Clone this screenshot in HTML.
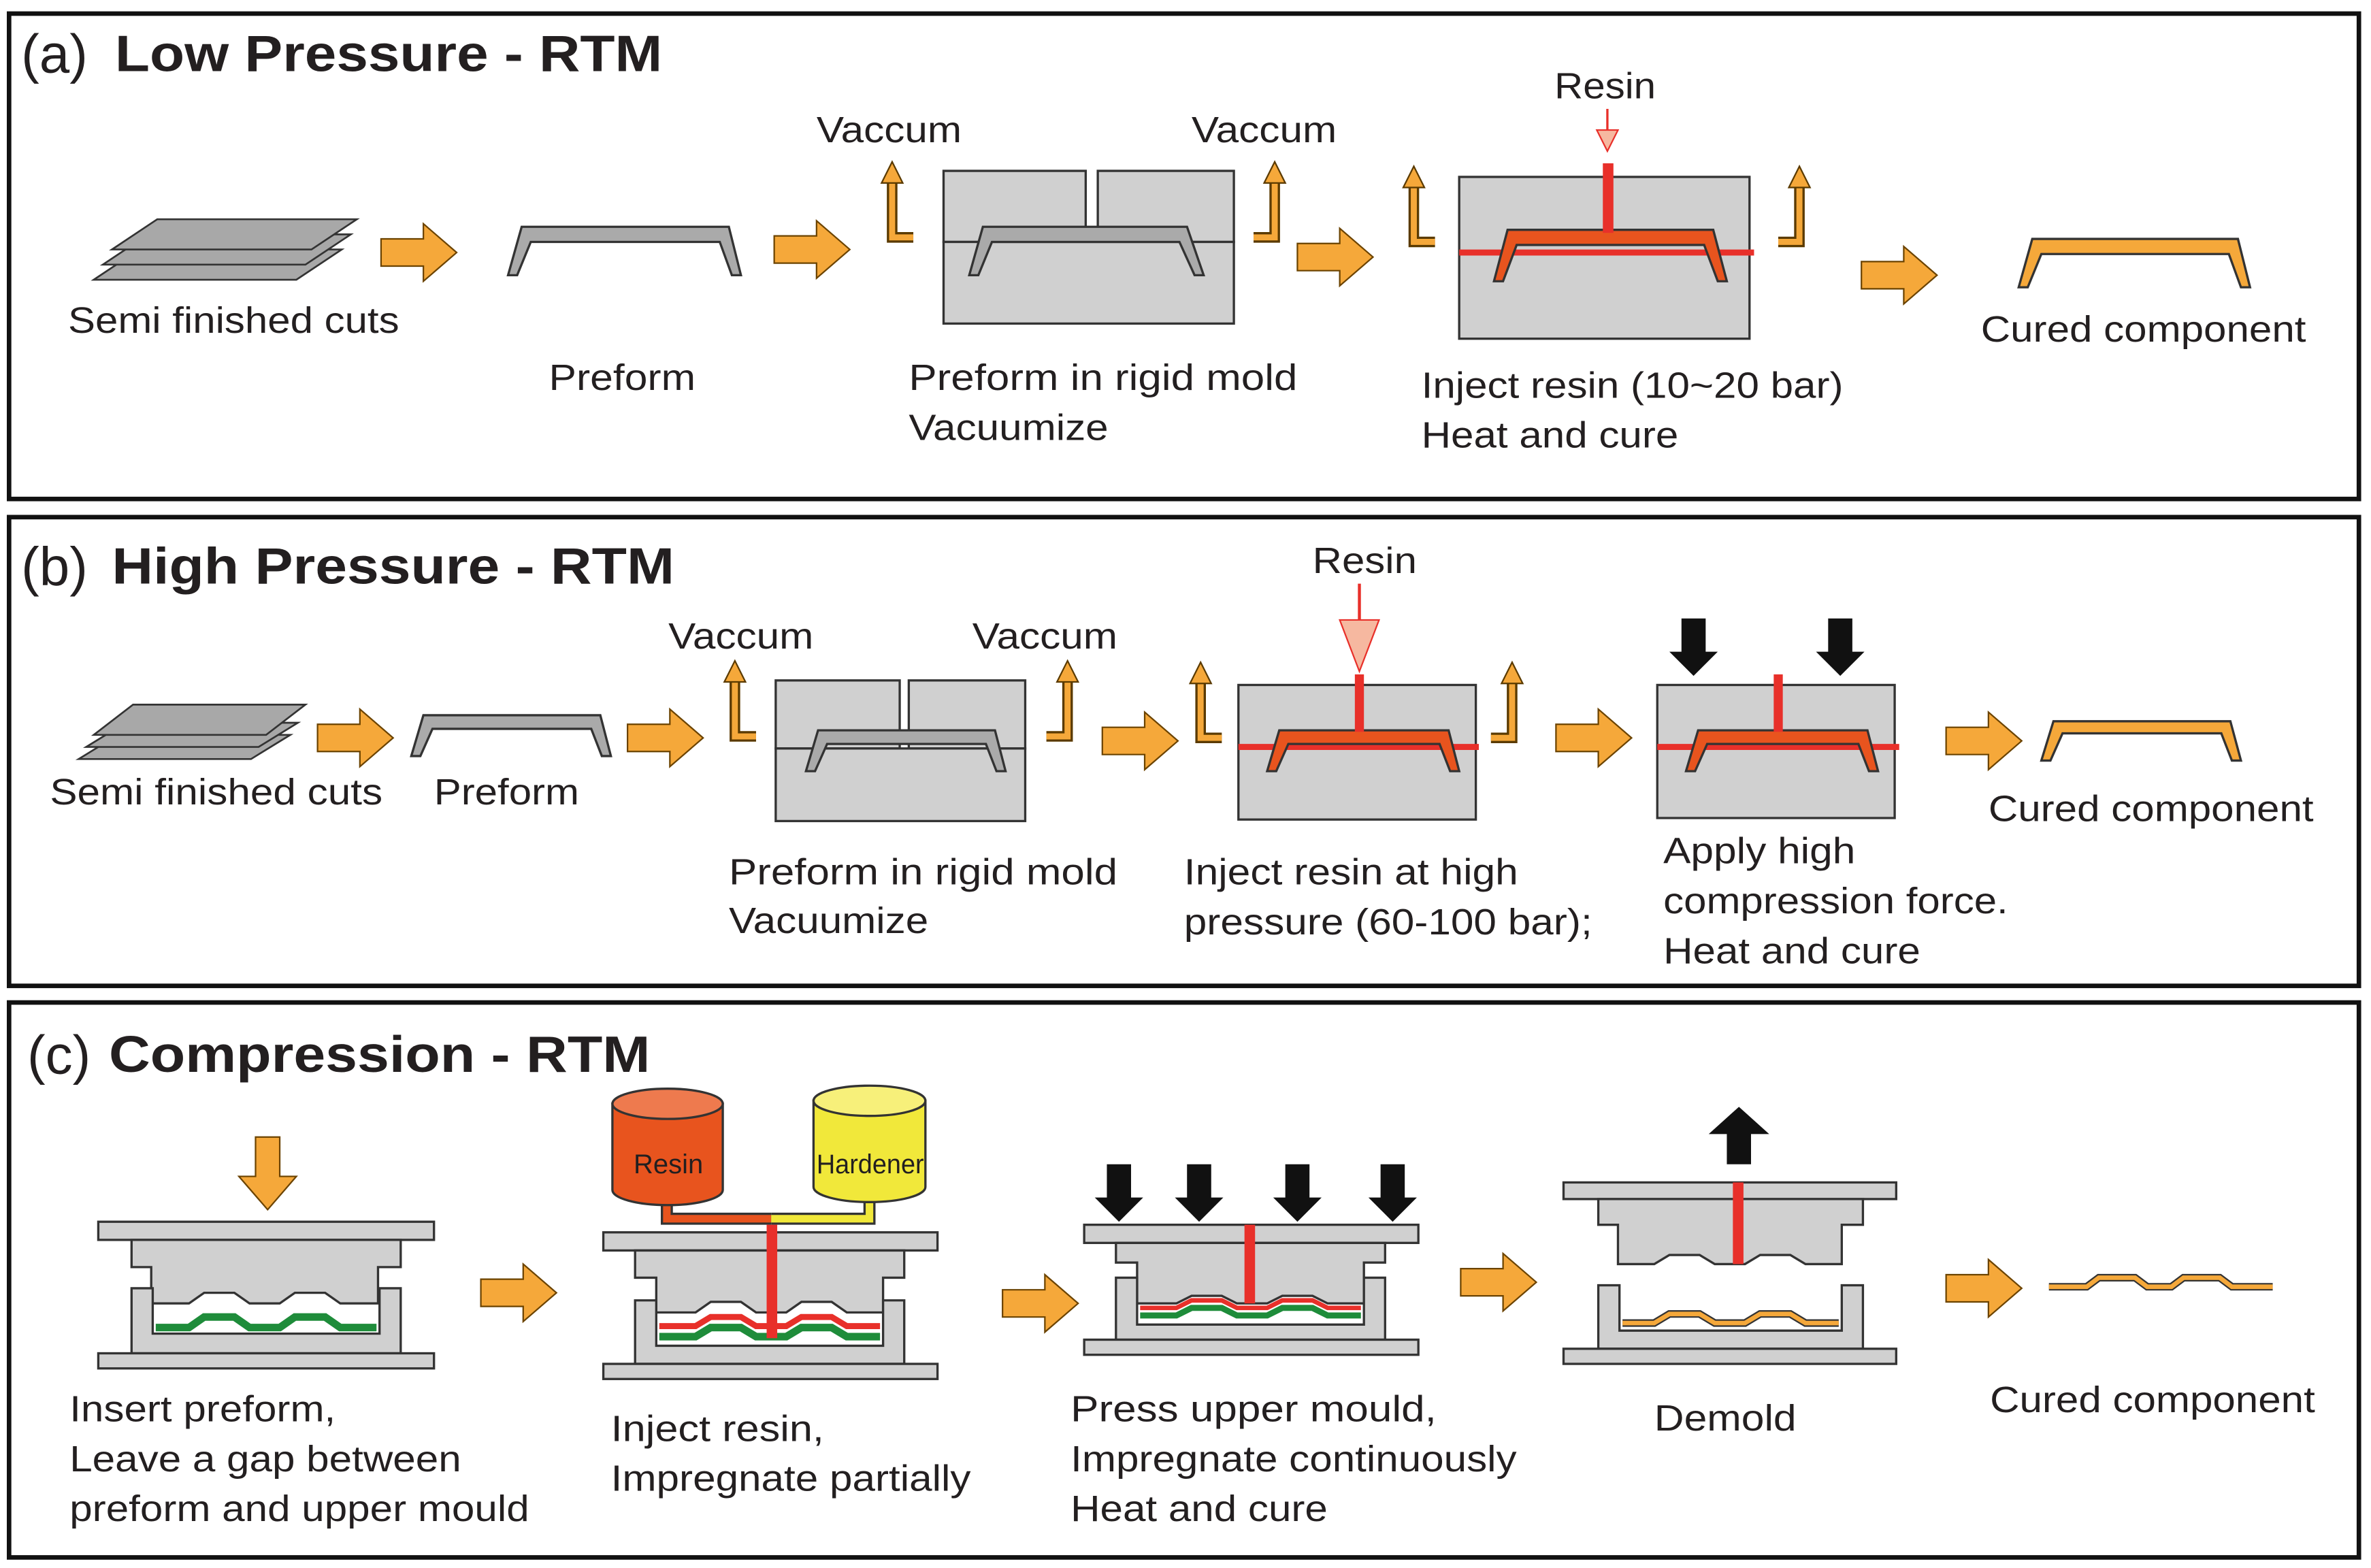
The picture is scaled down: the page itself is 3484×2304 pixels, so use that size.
<!DOCTYPE html>
<html><head><meta charset="utf-8"><style>html,body{margin:0;padding:0;background:#fff}svg{display:block}text{font-family:"Liberation Sans",Arial,sans-serif;fill:#231f20}</style></head><body>
<svg width="3484" height="2304" viewBox="0 0 1568 1037" preserveAspectRatio="none" xmlns="http://www.w3.org/2000/svg">
<defs>
<path id="oa" d="M0,-9 H28 V-19 L50,0 L28,19 V9 H0 Z" fill="#F5A83A" stroke="#6b4300" stroke-width="1"/>
<g id="vl"><polyline points="14,0 0,0 0,-38" fill="none" stroke="#5a3a00" stroke-width="7"/><polyline points="14,0 0,0 0,-38" fill="none" stroke="#F5A83A" stroke-width="4"/><path d="M-7,-36 L0,-50 L7,-36 Z" fill="#F5A83A" stroke="#5a3a00" stroke-width="1"/></g>
<g id="vr"><polyline points="-14,0 0,0 0,-38" fill="none" stroke="#5a3a00" stroke-width="7"/><polyline points="-14,0 0,0 0,-38" fill="none" stroke="#F5A83A" stroke-width="4"/><path d="M-7,-36 L0,-50 L7,-36 Z" fill="#F5A83A" stroke="#5a3a00" stroke-width="1"/></g>
<path id="ba" d="M-8,-38 H8 V-16 H16 L0,0 L-16,-16 H-8 Z" fill="#111"/>
</defs>
<g fill="none" stroke="#111" stroke-width="3">
<rect x="6" y="9" width="1554" height="321"/><rect x="6" y="342" width="1554" height="310"/><rect x="6" y="663" width="1554" height="367"/>
</g>
<g lengthAdjust="spacingAndGlyphs">
<!-- PANEL A -->
<text x="14" y="48" font-size="36">(a)</text><text x="76" y="47" font-size="34" font-weight="bold" textLength="362" lengthAdjust="spacingAndGlyphs">Low Pressure - RTM</text>
<g fill="#a8a8a8" stroke="#333" stroke-width="1.2"><path d="M62,185 L92,165 L226,165 L196,185Z"/><path d="M68,175 L98,155 L232,155 L202,175Z"/><path d="M74,165 L104,145 L236,145 L206,165Z"/></g>
<use href="#oa" x="252" y="167"/>
<path d="M336,182 L345,150 L482,150 L490,182 L484,182 L476,160 L351,160 L342,182Z" fill="#aaa" stroke="#333" stroke-width="1.5"/>
<text x="45" y="220" font-size="24" textLength="219" lengthAdjust="spacingAndGlyphs">Semi finished cuts</text><text x="363" y="258" font-size="24" textLength="97" lengthAdjust="spacingAndGlyphs">Preform</text>
<use href="#oa" x="512" y="165"/>
<g fill="#d0d0d0" stroke="#333" stroke-width="1.5"><rect x="624" y="113" width="94" height="47"/><rect x="726" y="113" width="90" height="47"/><rect x="624" y="160" width="192" height="54"/></g>
<path d="M641,182 L650,150 L785,150 L796,182 L790,182 L780,160 L656,160 L647,182Z" fill="#aaa" stroke="#333" stroke-width="1.5"/>
<use href="#vl" x="590" y="157"/><use href="#vr" x="843" y="157"/>
<text x="540" y="94" font-size="24" textLength="96" lengthAdjust="spacingAndGlyphs">Vaccum</text><text x="788" y="94" font-size="24" textLength="96" lengthAdjust="spacingAndGlyphs">Vaccum</text>
<text x="601" y="258" font-size="24" textLength="257" lengthAdjust="spacingAndGlyphs">Preform  in rigid mold</text><text x="601" y="291" font-size="24" textLength="132" lengthAdjust="spacingAndGlyphs">Vacuumize</text>
<use href="#oa" x="858" y="170"/>
<rect x="965" y="117" width="192" height="107" fill="#d0d0d0" stroke="#333" stroke-width="1.5"/>
<line x1="965" y1="167" x2="1160" y2="167" stroke="#E8302A" stroke-width="4"/>
<path d="M988,186 L997,152 L1133,152 L1142,186 L1136,186 L1127,162 L1003,162 L994,186Z" fill="#E8541E" stroke="#333" stroke-width="1.5"/>
<rect x="1060" y="108" width="7" height="46" fill="#E8302A"/>
<line x1="1063" y1="72" x2="1063" y2="92" stroke="#E8302A" stroke-width="1.5"/><path d="M1056,86 L1063,100 L1070,86 Z" fill="#f6b8a0" stroke="#E8302A"/>
<use href="#vl" x="935" y="160"/><use href="#vr" x="1190" y="160"/>
<text x="1028" y="65" font-size="24" textLength="67" lengthAdjust="spacingAndGlyphs">Resin</text>
<text x="940" y="263" font-size="24" textLength="279" lengthAdjust="spacingAndGlyphs">Inject resin (10~20 bar)</text><text x="940" y="296" font-size="24" textLength="170" lengthAdjust="spacingAndGlyphs">Heat and cure</text>
<use href="#oa" x="1231" y="182"/>
<path d="M1335,190 L1344,158 L1480,158 L1488,190 L1482,190 L1474,168 L1350,168 L1341,190Z" fill="#F5A83A" stroke="#333" stroke-width="1.5"/>
<text x="1310" y="226" font-size="24" textLength="215" lengthAdjust="spacingAndGlyphs">Cured component</text>
<!-- PANEL B -->
<text x="14" y="387" font-size="36">(b)</text><text x="74" y="386" font-size="34" font-weight="bold" textLength="372" lengthAdjust="spacingAndGlyphs">High Pressure - RTM</text>
<g fill="#a8a8a8" stroke="#333" stroke-width="1.2"><path d="M52,502 L78,486 L192,486 L166,502Z"/><path d="M57,494 L83,478 L197,478 L171,494Z"/><path d="M62,486 L88,466 L202,466 L176,486Z"/></g>
<use href="#oa" x="210" y="488"/>
<path d="M272,500 L280,473 L397,473 L404,500 L398,500 L391,482 L286,482 L278,500Z" fill="#aaa" stroke="#333" stroke-width="1.5"/>
<text x="33" y="532" font-size="24" textLength="220" lengthAdjust="spacingAndGlyphs">Semi finished cuts</text><text x="287" y="532" font-size="24" textLength="96" lengthAdjust="spacingAndGlyphs">Preform</text>
<use href="#oa" x="415" y="488"/>
<g fill="#d0d0d0" stroke="#333" stroke-width="1.5"><rect x="513" y="450" width="82" height="45"/><rect x="601" y="450" width="77" height="45"/><rect x="513" y="495" width="165" height="48"/></g>
<path d="M533,510 L541,483 L658,483 L665,510 L659,510 L652,492 L547,492 L539,510Z" fill="#aaa" stroke="#333" stroke-width="1.5"/>
<use href="#vl" x="486" y="487"/><use href="#vr" x="706" y="487"/>
<text x="442" y="429" font-size="24" textLength="96" lengthAdjust="spacingAndGlyphs">Vaccum</text><text x="643" y="429" font-size="24" textLength="96" lengthAdjust="spacingAndGlyphs">Vaccum</text>
<text x="482" y="585" font-size="24" textLength="257" lengthAdjust="spacingAndGlyphs">Preform  in rigid mold</text><text x="482" y="617" font-size="24" textLength="132" lengthAdjust="spacingAndGlyphs">Vacuumize</text>
<use href="#oa" x="729" y="490"/>
<rect x="819" y="453" width="157" height="89" fill="#d0d0d0" stroke="#333" stroke-width="1.5"/>
<line x1="819" y1="494" x2="978" y2="494" stroke="#E8302A" stroke-width="4"/>
<path d="M838,510 L846,483 L958,483 L965,510 L959,510 L952,492 L852,492 L844,510Z" fill="#E8541E" stroke="#333" stroke-width="1.5"/>
<rect x="896" y="446" width="6" height="38" fill="#E8302A"/>
<line x1="899" y1="386" x2="899" y2="420" stroke="#E8302A" stroke-width="2"/><path d="M886,410 L899,444 L912,410 Z" fill="#f6b8a0" stroke="#E8302A"/>
<text x="868" y="379" font-size="24" textLength="69" lengthAdjust="spacingAndGlyphs">Resin</text>
<use href="#vl" x="794" y="488"/><use href="#vr" x="1000" y="488"/>
<text x="783" y="585" font-size="24" textLength="221" lengthAdjust="spacingAndGlyphs">Inject resin at high</text><text x="783" y="618" font-size="24" textLength="270" lengthAdjust="spacingAndGlyphs">pressure (60-100 bar);</text>
<use href="#oa" x="1029" y="488"/>
<rect x="1096" y="453" width="157" height="88" fill="#d0d0d0" stroke="#333" stroke-width="1.5"/>
<line x1="1096" y1="494" x2="1256" y2="494" stroke="#E8302A" stroke-width="4"/>
<path d="M1115,510 L1123,483 L1235,483 L1242,510 L1236,510 L1229,492 L1129,492 L1121,510Z" fill="#E8541E" stroke="#333" stroke-width="1.5"/>
<rect x="1173" y="446" width="6" height="38" fill="#E8302A"/>
<use href="#ba" x="1120" y="447"/><use href="#ba" x="1217" y="447"/>
<text x="1100" y="571" font-size="24" textLength="127" lengthAdjust="spacingAndGlyphs">Apply high</text><text x="1100" y="604" font-size="24" textLength="228" lengthAdjust="spacingAndGlyphs">compression force.</text><text x="1100" y="637" font-size="24" textLength="170" lengthAdjust="spacingAndGlyphs">Heat and cure</text>
<use href="#oa" x="1287" y="490"/>
<path d="M1350,503 L1358,477 L1475,477 L1482,503 L1476,503 L1469,485 L1364,485 L1356,503Z" fill="#F5A83A" stroke="#333" stroke-width="1.5"/>
<text x="1315" y="543" font-size="24" textLength="215" lengthAdjust="spacingAndGlyphs">Cured component</text>
<!-- PANEL C -->
<text x="18" y="710" font-size="36">(c)</text><text x="72" y="709" font-size="34" font-weight="bold" textLength="358" lengthAdjust="spacingAndGlyphs">Compression - RTM</text>
<path d="M169,752 H185 V778 H196 L177,800 L158,778 H169 Z" fill="#F5A83A" stroke="#6b4300"/>
<g fill="#d0d0d0" stroke="#333" stroke-width="1.5">
<rect x="65" y="808" width="222" height="12"/>
<path d="M87,820 H265 V838 H250 V862 L225,862 L215,855 L195,855 L185,862 L165,862 L155,855 L135,855 L125,862 L100,862 V838 H87 Z"/>
<path d="M87,852 H101 V882 H251 V852 H265 V895 H87 Z"/>
<rect x="65" y="895" width="222" height="10"/></g>
<path d="M103,878 L125,878 L135,871 L155,871 L165,878 L185,878 L195,871 L215,871 L225,878 L249,878" fill="none" stroke="#1e8c3a" stroke-width="5"/>
<text x="46" y="940" font-size="24" textLength="176" lengthAdjust="spacingAndGlyphs">Insert preform,</text><text x="46" y="973" font-size="24" textLength="259" lengthAdjust="spacingAndGlyphs">Leave a gap between</text><text x="46" y="1006" font-size="24" textLength="304" lengthAdjust="spacingAndGlyphs">preform and upper mould</text>
<use href="#oa" x="318" y="855"/>
<path d="M441,760 V806 H510" fill="none" stroke="#333" stroke-width="8"/><path d="M441,760 V806 H510" fill="none" stroke="#E8541E" stroke-width="5"/>
<path d="M575,760 V806 H510" fill="none" stroke="#333" stroke-width="8"/><path d="M575,760 V806 H510" fill="none" stroke="#F1E83A" stroke-width="5"/>
<path d="M405,730 V787 A36.5,10 0 0 0 478,787 V730 Z" fill="#E8541E" stroke="#333" stroke-width="1.5"/><ellipse cx="441.5" cy="730" rx="36.5" ry="10" fill="#ee7a4e" stroke="#333" stroke-width="1.5"/>
<path d="M538,728 V785 A37,10 0 0 0 612,785 V728 Z" fill="#F1E83A" stroke="#333" stroke-width="1.5"/><ellipse cx="575" cy="728" rx="37" ry="10" fill="#f7f07a" stroke="#333" stroke-width="1.5"/>
<text x="419" y="776" font-size="18">Resin</text><text x="540" y="776" font-size="18" textLength="71" lengthAdjust="spacingAndGlyphs">Hardener</text>
<g fill="#d0d0d0" stroke="#333" stroke-width="1.5">
<rect x="399" y="815" width="221" height="12"/>
<path d="M420,827 H598 V845 H584 V868 L560,868 L550,861 L530,861 L520,868 L500,868 L490,861 L470,861 L460,868 L434,868 V845 H420 Z"/>
<path d="M420,860 H434 V890 H584 V860 H598 V902 H420 Z"/>
<rect x="399" y="902" width="221" height="10"/></g>
<path d="M436,877 L460,877 L470,871 L490,871 L500,877 L520,877 L530,871 L550,871 L560,877 L582,877" fill="none" stroke="#E8302A" stroke-width="4"/>
<path d="M436,884 L460,884 L470,878 L490,878 L500,884 L520,884 L530,878 L550,878 L560,884 L582,884" fill="none" stroke="#1e8c3a" stroke-width="5"/>
<rect x="507" y="810" width="7" height="75" fill="#E8302A"/>
<text x="404" y="953" font-size="24" textLength="141" lengthAdjust="spacingAndGlyphs">Inject resin,</text><text x="404" y="986" font-size="24" textLength="238" lengthAdjust="spacingAndGlyphs">Impregnate partially</text>
<use href="#oa" x="663" y="862"/>
<use href="#ba" x="740" y="808"/><use href="#ba" x="793" y="808"/><use href="#ba" x="858" y="808"/><use href="#ba" x="921" y="808"/>
<g fill="#d0d0d0" stroke="#333" stroke-width="1.5">
<rect x="717" y="810" width="221" height="12"/>
<path d="M738,822 H916 V835 H902 V862 L878,862 L868,857 L848,857 L838,862 L818,862 L808,857 L788,857 L778,862 L752,862 V835 H738 Z"/>
<path d="M738,845 H752 V876 H902 V845 H916 V886 H738 Z"/>
<rect x="717" y="886" width="221" height="10"/></g>
<path d="M754,865 L778,865 L788,860 L808,860 L818,865 L838,865 L848,860 L868,860 L878,865 L900,865" fill="none" stroke="#E8302A" stroke-width="3"/>
<path d="M754,870 L778,870 L788,865 L808,865 L818,870 L838,870 L848,865 L868,865 L878,870 L900,870" fill="none" stroke="#1e8c3a" stroke-width="4"/>
<rect x="823" y="810" width="7" height="52" fill="#E8302A"/>
<text x="708" y="940" font-size="24" textLength="242" lengthAdjust="spacingAndGlyphs">Press  upper mould,</text><text x="708" y="973" font-size="24" textLength="295" lengthAdjust="spacingAndGlyphs">Impregnate continuously</text><text x="708" y="1006" font-size="24" textLength="170" lengthAdjust="spacingAndGlyphs">Heat and cure</text>
<use href="#oa" x="966" y="848"/>
<path d="M1142,770 V750 H1130 L1150,732 L1170,750 H1158 V770 Z" fill="#111"/>
<g fill="#d0d0d0" stroke="#333" stroke-width="1.5">
<rect x="1034" y="782" width="220" height="11"/>
<path d="M1057,793 H1232 V810 H1218 V836 L1194,836 L1184,830 L1164,830 L1154,836 L1134,836 L1124,830 L1104,830 L1094,836 L1070,836 V810 H1057 Z"/>
<path d="M1057,850 H1071 V880 H1218 V850 H1232 V892 H1057 Z"/>
<rect x="1034" y="892" width="220" height="10"/></g>
<path d="M1073,875 L1094,875 L1104,869 L1124,869 L1134,875 L1154,875 L1164,869 L1184,869 L1194,875 L1216,875" fill="none" stroke="#333" stroke-width="5"/>
<path d="M1073,875 L1094,875 L1104,869 L1124,869 L1134,875 L1154,875 L1164,869 L1184,869 L1194,875 L1216,875" fill="none" stroke="#F5A83A" stroke-width="3"/>
<rect x="1146" y="782" width="7" height="54" fill="#E8302A"/>
<text x="1094" y="946" font-size="24" textLength="94" lengthAdjust="spacingAndGlyphs">Demold</text>
<use href="#oa" x="1287" y="852"/>
<path d="M1355,851 L1380,851 L1388,845 L1412,845 L1420,851 L1436,851 L1444,845 L1468,845 L1476,851 L1503,851" fill="none" stroke="#333" stroke-width="5"/>
<path d="M1355,851 L1380,851 L1388,845 L1412,845 L1420,851 L1436,851 L1444,845 L1468,845 L1476,851 L1503,851" fill="none" stroke="#F5A83A" stroke-width="3"/>
<text x="1316" y="934" font-size="24" textLength="215" lengthAdjust="spacingAndGlyphs">Cured component</text>
</g>
</svg>
</body></html>
